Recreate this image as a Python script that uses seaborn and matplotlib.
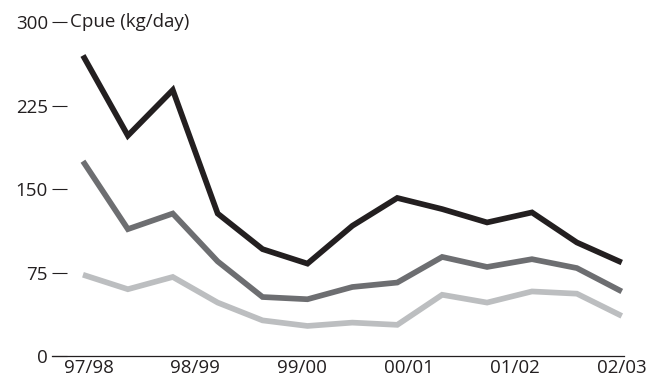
import numpy as np
import pandas as pd
import matplotlib
matplotlib.use("Agg")
import matplotlib.pyplot as plt
import seaborn as sns

# Data (13 points spanning seasons 97/98 .. 02/03)
x_idx = list(range(13))
series_a = [270, 198, 239, 128, 96, 83, 117, 142, 132, 120, 129, 102, 84]
series_b = [175, 114, 128, 85, 53, 51, 62, 66, 89, 80, 87, 79, 58]
series_c = [73, 60, 71, 48, 32, 27, 30, 28, 55, 48, 58, 56, 36]
season_labels = ["97/98", "98/99", "99/00", "00/01", "01/02", "02/03"]
y_ticks = [0, 75, 150, 225, 300]
y_title = "Cpue (kg/day)"

df = pd.concat([
    pd.DataFrame({"x": x_idx, "cpue": series_a, "series": "A"}),
    pd.DataFrame({"x": x_idx, "cpue": series_b, "series": "B"}),
    pd.DataFrame({"x": x_idx, "cpue": series_c, "series": "C"}),
])

sns.set_style("white")
plt.rcParams['font.family'] = ['Open Sans', 'DejaVu Sans']

fig = plt.figure(figsize=(6.49, 3.81), dpi=100)
ax = fig.add_axes([0.0801, 0.0656, 0.8814, 0.8764])

sns.lineplot(data=df, x="x", y="cpue", hue="series",
             palette={"A": "#231f20", "B": "#6d6e71", "C": "#bcbec0"},
             linewidth=4.1, legend=False, ax=ax)
for ln in ax.get_lines():
    ln.set_solid_capstyle("butt")
    ln.set_solid_joinstyle("miter")
    ln.set_clip_on(False)

ax.set_xlim(-0.69, 12.05)
ax.set_ylim(0, 300)
ax.set_xlabel("")
ax.set_ylabel("")

fs = 13.5
ax.set_xticks(np.linspace(0.13, 12, len(season_labels)))
ax.set_xticklabels(season_labels, fontsize=fs, color="#231f20")
ax.set_yticks(y_ticks)
ax.set_yticklabels([str(v) for v in y_ticks], fontsize=fs, color="#231f20")

ax.tick_params(axis="x", bottom=False, length=0, pad=2)
ax.tick_params(axis="y", left=True, direction="in", length=10.5, width=0.8,
               color="#231f20", pad=3)

for s in ["top", "right", "left"]:
    ax.spines[s].set_visible(False)
ax.spines["bottom"].set_color("#231f20")
ax.spines["bottom"].set_linewidth(0.9)

ax.text(0.031, 1.0, y_title, transform=ax.transAxes, fontsize=fs,
        color="#231f20", va="center", ha="left")

fig.savefig("out.png", dpi=100)
